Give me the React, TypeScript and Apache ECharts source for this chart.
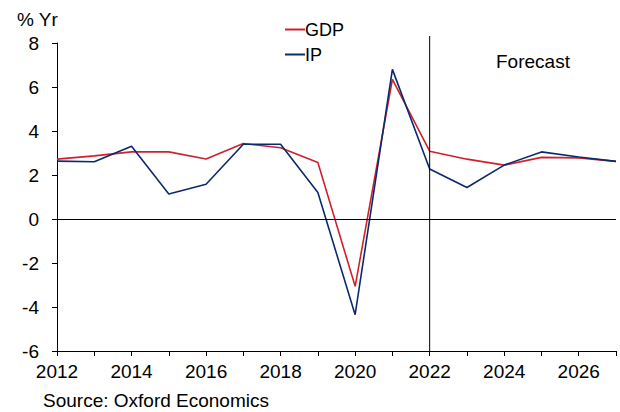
import React, { useEffect, useRef } from "react";
import * as echarts from "echarts";

const years = [2012, 2013, 2014, 2015, 2016, 2017, 2018, 2019, 2020, 2021, 2022, 2023, 2024, 2025, 2026, 2027];
const gdp = [2.72, 2.87, 3.05, 3.05, 2.73, 3.43, 3.24, 2.57, -3.06, 6.35, 3.08, 2.72, 2.45, 2.8, 2.78, 2.62];
const ip = [2.63, 2.6, 3.31, 1.14, 1.58, 3.4, 3.4, 1.2, -4.35, 6.8, 2.27, 1.43, 2.45, 3.05, 2.82, 2.62];
const yTicks = { min: -6, max: 8, step: 2 };
const forecastStart = 2022;

const FONT = "'Liberation Sans', Arial, sans-serif";
const RED = "#d0202e";
const BLUE = "#0b2a6e";

export default function App() {
  const ref = useRef<HTMLDivElement>(null);
  useEffect(() => {
    if (!ref.current) return;
    const chart = echarts.init(ref.current, null, { renderer: "svg" });
    const option: any = {
      animation: false,
      textStyle: { fontFamily: FONT },
      grid: { left: 57, right: 4, top: 43, bottom: 61 },
      legend: {
        orient: "vertical",
        left: 280,
        top: 15,
        icon: "rect",
        itemWidth: 20,
        itemHeight: 2,
        itemGap: 6,
        textStyle: { fontFamily: FONT, fontSize: 18, color: "#000", lineHeight: 19, padding: [0, 0, 0, -5] },
        data: ["GDP", "IP"],
      },
      xAxis: {
        type: "value",
        min: years[0],
        max: years[years.length - 1],
        interval: 1,
        axisLine: { onZero: false, lineStyle: { color: "#000", width: 1 } },
        axisTick: { show: true, length: 5, lineStyle: { color: "#000" } },
        splitLine: { show: false },
        axisLabel: {
          fontFamily: FONT,
          fontSize: 19,
          color: "#000",
          margin: 11,
          formatter: (v: number) => (v % 2 === 0 && v < 2027 ? String(v) : ""),
        },
      },
      yAxis: {
        type: "value",
        min: yTicks.min,
        max: yTicks.max,
        interval: yTicks.step,
        axisLine: { show: true, lineStyle: { color: "#000", width: 1 } },
        axisTick: { show: true, length: 5, lineStyle: { color: "#000" } },
        splitLine: { show: false },
        axisLabel: { fontFamily: FONT, fontSize: 19, color: "#000", margin: 18 },
      },
      series: [
        {
          name: "GDP",
          type: "line",
          data: years.map((y, i) => [y, gdp[i]]),
          symbol: "none",
          lineStyle: { color: RED, width: 1.6 },
          itemStyle: { color: RED },
          z: 3,
          markLine: {
            silent: true,
            symbol: "none",
            label: { show: false },
            lineStyle: { color: "#000", width: 1, type: "solid" },
            data: [{ yAxis: 0 }],
          },
        },
        {
          name: "IP",
          type: "line",
          data: years.map((y, i) => [y, ip[i]]),
          symbol: "none",
          lineStyle: { color: BLUE, width: 1.6 },
          itemStyle: { color: BLUE },
          z: 4,
        },
      ],
    };
    chart.setOption(option);
    const top = chart.convertToPixel({ gridIndex: 0 } as any, [forecastStart, yTicks.max]) as number[];
    const bottom = chart.convertToPixel({ gridIndex: 0 } as any, [forecastStart, yTicks.min]) as number[];
    chart.setOption({
      graphic: [
        {
          type: "line",
          shape: { x1: top[0], y1: top[1] - 7, x2: bottom[0], y2: bottom[1] },
          style: { stroke: "#000", lineWidth: 1 },
          z: 10,
        },
        {
          type: "text",
          left: 17,
          top: 10,
          style: { text: "% Yr", font: `19px ${FONT}`, fill: "#000" },
        },
        {
          type: "text",
          left: 496,
          top: 52,
          style: { text: "Forecast", font: `19px ${FONT}`, fill: "#000" },
        },
        {
          type: "text",
          left: 43,
          top: 391,
          style: { text: "Source: Oxford Economics", font: `19px ${FONT}`, fill: "#000" },
        },
      ],
    });
    return () => chart.dispose();
  }, []);
  return <div ref={ref} style={{ width: 620, height: 412, position: "absolute", left: 0, top: 0 }} />;
}
